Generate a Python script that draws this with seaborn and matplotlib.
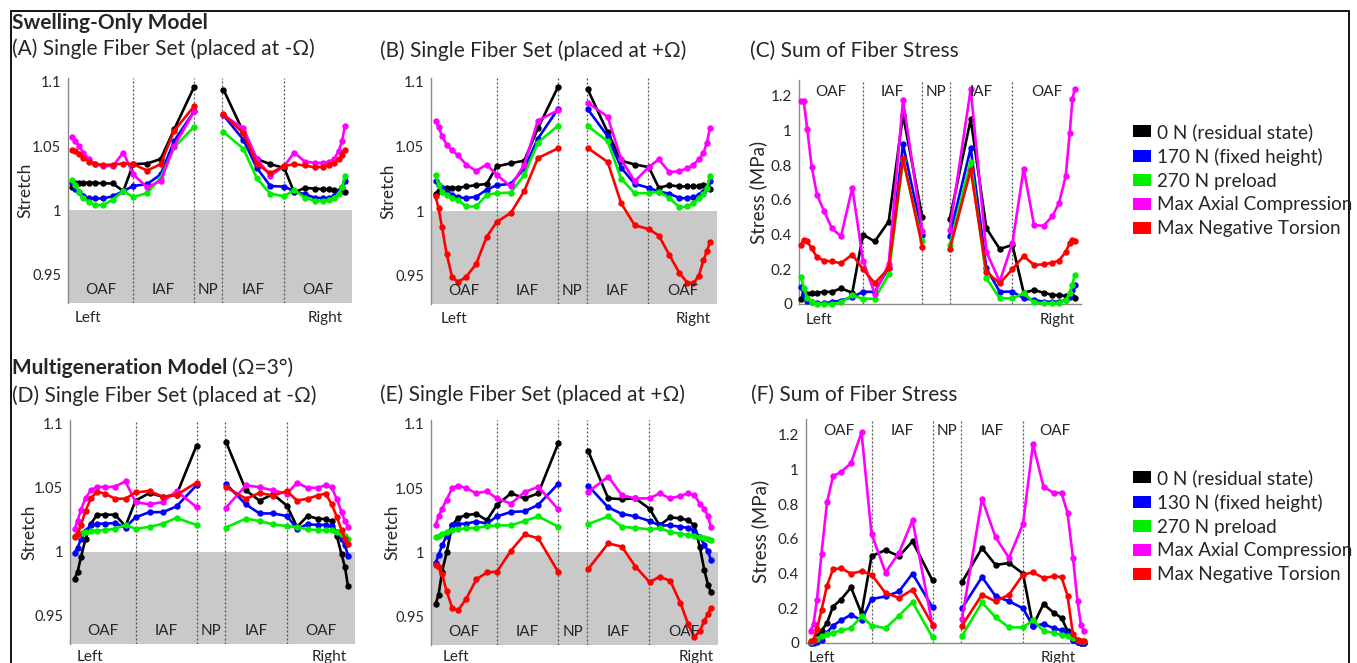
import numpy as np
import pandas as pd
import matplotlib
matplotlib.use("Agg")
import matplotlib.pyplot as plt
from matplotlib.patches import Patch, Rectangle
import seaborn as sns

# ---------------- data ----------------
# radial positions of the nodes (left half / right half)
pos_left = [4.5, 7.5, 11, 15.5, 21, 27, 35, 45, 55.5, 65.5, 79.5, 93, 106.5, 126.5]
pos_right = [156, 176, 189.5, 203, 217, 227, 237.5, 247.5, 255.5, 261.5, 267, 271.5, 275, 278]
posC_left = [2.3, 4.7, 8.3, 12.7, 18, 25, 33, 42, 53.3, 64, 75.7, 89.7, 104, 123.3]
posC_right = [150.7, 171.7, 187.4, 200.7, 213.4, 224.7, 235, 244.7, 253.4, 260, 266.7, 270.7, 273.4, 275.7]
region_bounds = [0, 65.5, 126.5, 155, 216.5, 285]
regionC_bounds = [0, 63.5, 123.3, 151, 213, 282]
regionF_bounds = [0, 65.5, 126.5, 155, 216.5, 281]
regions = ["OAF", "IAF", "NP", "IAF", "OAF"]

series_top = ["0 N (residual state)", "170 N (fixed height)", "270 N preload",
              "Max Axial Compression", "Max Negative Torsion"]
series_bot = ["0 N (residual state)", "130 N (fixed height)", "270 N preload",
              "Max Axial Compression", "Max Negative Torsion"]
colors = ["#000000", "#0000ff", "#00ee00", "#ff00ff", "#ff0000"]

# (A) swelling-only, fiber at -Omega : stretch (left 14 then right 14)
a_black = [1.018, 1.021, 1.0215, 1.0215, 1.0215, 1.0215, 1.021, 1.021, 1.015, 1.036, 1.0365, 1.040, 1.063, 1.096,
           1.094, 1.061, 1.040, 1.036, 1.033, 1.014, 1.0175, 1.017, 1.0165, 1.0165, 1.016, 1.0155, 1.015, 1.0143]
a_blue = [1.021, 1.017, 1.014, 1.011, 1.0095, 1.0093, 1.0093, 1.011, 1.015, 1.019, 1.0205, 1.028, 1.054, 1.077,
          1.074, 1.055, 1.033, 1.019, 1.0185, 1.015, 1.0125, 1.010, 1.0095, 1.0095, 1.011, 1.014, 1.018, 1.023]
a_green = [1.024, 1.0195, 1.014, 1.0095, 1.0065, 1.0045, 1.004, 1.0085, 1.015, 1.0105, 1.0135, 1.0255, 1.049, 1.065,
           1.061, 1.048, 1.025, 1.013, 1.011, 1.016, 1.010, 1.0075, 1.0072, 1.0078, 1.0095, 1.013, 1.018, 1.027]
a_magenta = [1.057, 1.054, 1.050, 1.045, 1.040, 1.036, 1.0347, 1.0345, 1.045, 1.028, 1.018, 1.023, 1.050, 1.077,
             1.074, 1.064, 1.040, 1.027, 1.0345, 1.045, 1.038, 1.037, 1.037, 1.0375, 1.040, 1.046, 1.054, 1.066]
a_red = [1.047, 1.0465, 1.044, 1.041, 1.038, 1.036, 1.0355, 1.0355, 1.0365, 1.036, 1.031, 1.036, 1.062, 1.081,
         1.075, 1.060, 1.036, 1.029, 1.0345, 1.036, 1.035, 1.0335, 1.034, 1.035, 1.037, 1.040, 1.0435, 1.047]

# (B) swelling-only, fiber at +Omega : stretch
b_black = [1.0135, 1.0155, 1.0175, 1.0177, 1.0177, 1.018, 1.019, 1.020, 1.021, 1.0345, 1.037, 1.039, 1.064, 1.096,
           1.0945, 1.061, 1.039, 1.036, 1.034, 1.018, 1.020, 1.019, 1.019, 1.019, 1.0195, 1.020, 1.019, 1.0172]
b_blue = [1.0234, 1.020, 1.018, 1.015, 1.0125, 1.0105, 1.010, 1.011, 1.0165, 1.020, 1.021, 1.033, 1.056, 1.079,
          1.079, 1.058, 1.0335, 1.021, 1.018, 1.015, 1.0135, 1.010, 1.0099, 1.0105, 1.0125, 1.015, 1.018, 1.023]
b_green = [1.028, 1.020, 1.015, 1.0125, 1.010, 1.0085, 1.0035, 1.0035, 1.0125, 1.0138, 1.0143, 1.028, 1.053, 1.066,
           1.066, 1.054, 1.025, 1.0138, 1.0138, 1.015, 1.010, 1.003, 1.0035, 1.006, 1.010, 1.013, 1.018, 1.027]
b_magenta = [1.0698, 1.065, 1.058, 1.0515, 1.047, 1.043, 1.036, 1.031, 1.036, 1.028, 1.019, 1.036, 1.070, 1.078,
             1.084, 1.073, 1.040, 1.023, 1.034, 1.040, 1.030, 1.031, 1.033, 1.036, 1.040, 1.045, 1.053, 1.0645]
b_red = [1.0113, 1.0023, 0.9874, 0.967, 0.949, 0.945, 0.949, 0.959, 0.980, 0.9915, 0.9985, 1.0156, 1.041, 1.0485,
         1.049, 1.038, 1.006, 0.989, 0.986, 0.981, 0.966, 0.952, 0.9445, 0.944, 0.950, 0.962, 0.969, 0.976]

# (C) swelling-only : sum of fiber stress (MPa)
c_black = [0.03, 0.06, 0.06, 0.065, 0.065, 0.07, 0.07, 0.09, 0.065, 0.40, 0.36, 0.475, 1.09, 0.50,
           0.488, 1.064, 0.436, 0.317, 0.34, 0.065, 0.08, 0.065, 0.052, 0.05, 0.048, 0.048, 0.048, 0.033]
c_blue = [0.10, 0.05, 0.02, 0.01, 0.005, 0.005, 0.01, 0.02, 0.04, 0.07, 0.07, 0.21, 0.92, 0.40,
          0.394, 0.897, 0.205, 0.071, 0.071, 0.033, 0.023, 0.013, 0.013, 0.013, 0.023, 0.042, 0.08, 0.11]
c_green = [0.155, 0.09, 0.035, 0.01, 0.0, 0.0, 0.0, 0.01, 0.05, 0.03, 0.03, 0.17, 0.83, 0.36,
           0.34, 0.82, 0.148, 0.033, 0.033, 0.061, 0.01, 0.004, 0.004, 0.008, 0.023, 0.061, 0.11, 0.167]
c_magenta = [1.17, 1.17, 1.005, 0.79, 0.63, 0.535, 0.435, 0.39, 0.67, 0.25, 0.06, 0.23, 1.175, 0.42,
             0.426, 1.237, 0.30, 0.129, 0.35, 0.78, 0.455, 0.45, 0.507, 0.58, 0.737, 0.983, 1.179, 1.237]
c_red = [0.34, 0.37, 0.36, 0.32, 0.27, 0.25, 0.245, 0.235, 0.285, 0.20, 0.12, 0.205, 0.84, 0.33,
         0.315, 0.772, 0.186, 0.119, 0.20, 0.276, 0.225, 0.228, 0.238, 0.25, 0.30, 0.35, 0.369, 0.365]

# (D) multigeneration, fiber at -Omega : stretch
d_black = [0.979, 0.984, 0.996, 1.010, 1.022, 1.029, 1.029, 1.029, 1.020, 1.040, 1.046, 1.043, 1.0445, 1.083,
           1.086, 1.048, 1.040, 1.045, 1.036, 1.0195, 1.028, 1.026, 1.0255, 1.024, 1.012, 0.998, 0.988, 0.973]
d_blue = [0.999, 1.003, 1.010, 1.0165, 1.021, 1.022, 1.022, 1.0225, 1.019, 1.027, 1.031, 1.031, 1.0355, 1.052,
          1.053, 1.037, 1.030, 1.030, 1.028, 1.018, 1.0215, 1.021, 1.021, 1.020, 1.0155, 1.010, 1.005, 0.997]
d_green = [1.012, 1.0135, 1.015, 1.0155, 1.016, 1.0165, 1.017, 1.018, 1.021, 1.018, 1.0195, 1.022, 1.0265, 1.021,
           1.019, 1.026, 1.024, 1.0215, 1.020, 1.0195, 1.0175, 1.017, 1.017, 1.0168, 1.0155, 1.014, 1.012, 1.010]
d_magenta = [1.0175, 1.024, 1.033, 1.042, 1.048, 1.051, 1.0505, 1.051, 1.055, 1.039, 1.037, 1.039, 1.0475, 1.035,
             1.0345, 1.052, 1.0505, 1.048, 1.0455, 1.054, 1.050, 1.050, 1.052, 1.0505, 1.041, 1.031, 1.024, 1.0195]
d_red = [1.0115, 1.014, 1.021, 1.032, 1.042, 1.047, 1.0455, 1.0415, 1.0415, 1.0465, 1.0475, 1.043, 1.0445, 1.054,
         1.0505, 1.0415, 1.046, 1.044, 1.0475, 1.040, 1.0415, 1.044, 1.0455, 1.0375, 1.027, 1.017, 1.010, 1.0065]

# (E) multigeneration, fiber at +Omega : stretch
e_black = [0.960, 0.967, 0.985, 1.000, 1.021, 1.027, 1.029, 1.030, 1.025, 1.037, 1.046, 1.042, 1.046, 1.085,
           1.079, 1.042, 1.0415, 1.042, 1.034, 1.021, 1.0273, 1.0265, 1.025, 1.021, 1.004, 0.986, 0.975, 0.969]
e_blue = [0.9915, 0.998, 1.0055, 1.013, 1.021, 1.022, 1.0225, 1.024, 1.0225, 1.028, 1.0315, 1.032, 1.037, 1.0535,
          1.052, 1.035, 1.030, 1.028, 1.0245, 1.021, 1.021, 1.020, 1.019, 1.017, 1.012, 1.006, 1.001, 0.994]
e_green = [1.012, 1.013, 1.014, 1.016, 1.0175, 1.018, 1.0188, 1.019, 1.0205, 1.021, 1.021, 1.0245, 1.028, 1.020,
           1.022, 1.028, 1.020, 1.019, 1.018, 1.0188, 1.016, 1.0145, 1.0137, 1.013, 1.012, 1.011, 1.0105, 1.010]
e_magenta = [1.021, 1.028, 1.034, 1.041, 1.050, 1.052, 1.050, 1.046, 1.0475, 1.042, 1.038, 1.047, 1.051, 1.0335,
             1.047, 1.059, 1.0445, 1.042, 1.042, 1.046, 1.042, 1.044, 1.046, 1.0445, 1.038, 1.034, 1.028, 1.020]
e_red = [0.990, 0.989, 0.983, 0.970, 0.957, 0.955, 0.964, 0.979, 0.9845, 0.985, 1.0015, 1.014, 1.011, 0.9845,
         0.987, 1.007, 1.0045, 0.989, 0.977, 0.981, 0.978, 0.961, 0.944, 0.934, 0.939, 0.947, 0.952, 0.957]

# (F) multigeneration : sum of fiber stress (MPa)
f_black = [0.002, 0.01, 0.04, 0.07, 0.115, 0.21, 0.25, 0.32, 0.17, 0.50, 0.535, 0.50, 0.585, 0.36,
           0.35, 0.547, 0.45, 0.46, 0.40, 0.10, 0.225, 0.175, 0.145, 0.07, 0.02, 0.006, 0.0, 0.0]
f_blue = [0.0, 0.0, 0.005, 0.02, 0.06, 0.10, 0.13, 0.163, 0.13, 0.253, 0.268, 0.297, 0.40, 0.205,
          0.20, 0.38, 0.27, 0.24, 0.20, 0.096, 0.11, 0.086, 0.073, 0.058, 0.02, 0.006, 0.0, 0.0]
f_green = [0.005, 0.015, 0.025, 0.04, 0.05, 0.06, 0.072, 0.086, 0.153, 0.10, 0.086, 0.157, 0.236, 0.032,
           0.04, 0.234, 0.148, 0.09, 0.09, 0.13, 0.07, 0.058, 0.048, 0.038, 0.029, 0.02, 0.013, 0.01]
f_magenta = [0.07, 0.11, 0.25, 0.515, 0.81, 0.96, 0.985, 1.035, 1.213, 0.63, 0.406, 0.52, 0.707, 0.10,
             0.14, 0.83, 0.61, 0.49, 0.685, 1.146, 0.90, 0.865, 0.865, 0.75, 0.49, 0.24, 0.105, 0.067]
f_red = [0.01, 0.02, 0.08, 0.19, 0.33, 0.425, 0.43, 0.40, 0.413, 0.394, 0.288, 0.26, 0.307, 0.106,
         0.10, 0.278, 0.24, 0.278, 0.394, 0.407, 0.374, 0.384, 0.38, 0.273, 0.05, 0.02, 0.013, 0.01]

stretch_ticks = [0.95, 1.0, 1.05, 1.1]
stretch_ticklabels = ["0.95", "1", "1.05", "1.1"]
stress_ticks = [0, 0.2, 0.4, 0.6, 0.8, 1.0, 1.2]
stress_ticklabels = ["0", "0.2", "0.4", "0.6", "0.8", "1", "1.2"]

# ---------------- style ----------------
sns.set_style("white")
plt.rcParams["font.family"] = ["Lato", "DejaVu Sans"]
plt.rcParams["axes.unicode_minus"] = False

W, H = 1357, 663
fig = plt.figure(figsize=(W / 100, H / 100), dpi=100)


def add_ax(x0, x1, ytop, ybot):
    return fig.add_axes([x0 / W, 1 - ybot / H, (x1 - x0) / W, (ybot - ytop) / H])


def make_df(vals, names, xl, xr):
    rows = []
    for name, v in zip(names, vals):
        for side, xs, vs in (("L", xl, v[:14]), ("R", xr, v[14:])):
            for x, y in zip(xs, vs):
                rows.append((name, side, x, y))
    return pd.DataFrame(rows, columns=["series", "side", "x", "value"])


def draw_lines(ax, df, names):
    sns.lineplot(data=df, x="x", y="value", hue="series", hue_order=names,
                 palette=dict(zip(names, colors)), units="side", estimator=None,
                 sort=False, marker="o", markersize=4.6, markeredgewidth=0,
                 linewidth=1.9, legend=False, ax=ax, clip_on=False, zorder=3)
    ax.set_xlabel("")


GRAY_LINE = "#8a8a8a"
LBL = 11


def stretch_panel(ax, vals, names, ylab_x, lr_offset, lr_x):
    ax.set_xlim(0, region_bounds[-1])
    ax.set_ylim(0.928, 1.103)
    ax.axhspan(0.928, 1.0, color="#c9c9c9", lw=0, zorder=0)
    for b in region_bounds[1:-1]:
        ax.axvline(b, color="#555555", lw=0.9, ls=(0, (1.6, 1.6)), zorder=1)
    draw_lines(ax, make_df(vals, names, pos_left, pos_right), names)
    for s in ["top", "right", "bottom"]:
        ax.spines[s].set_visible(False)
    ax.spines["left"].set_color(GRAY_LINE)
    ax.spines["left"].set_linewidth(1.0)
    ax.set_xticks([])
    ax.set_yticks(stretch_ticks)
    ax.set_yticklabels(stretch_ticklabels)
    ax.tick_params(axis="y", direction="in", length=3, color=GRAY_LINE, labelsize=10.5, pad=5)
    ax.set_ylabel("Stretch", fontsize=12.5)
    ax.yaxis.set_label_coords(ylab_x, 0.5)
    for i, r in enumerate(regions):
        cx = (region_bounds[i] + region_bounds[i + 1]) / 2
        ax.text(cx, 0.938, r, ha="center", va="center", fontsize=LBL)
    for t, x in zip(["Left", "Right"], lr_x):
        ax.annotate(t, xy=(x, 0), xycoords=("data", "axes fraction"),
                    xytext=(0, -lr_offset), textcoords="offset pixels",
                    ha="center", va="center", fontsize=LBL)


def stress_panel(ax, vals, names, xl, xr, bounds, ylab_x, lr_offset, lr_x):
    ax.set_xlim(0, bounds[-1])
    ax.set_ylim(0, 1.29)
    for b in bounds[1:-1]:
        ax.axvline(b, color="#555555", lw=0.9, ls=(0, (1.6, 1.6)), zorder=1)
    draw_lines(ax, make_df(vals, names, xl, xr), names)
    for s in ["top", "right"]:
        ax.spines[s].set_visible(False)
    for s in ["left", "bottom"]:
        ax.spines[s].set_color(GRAY_LINE)
        ax.spines[s].set_linewidth(1.0)
    centers = [(bounds[i] + bounds[i + 1]) / 2 for i in range(5)]
    ax.set_xticks(centers)
    ax.set_xticklabels([])
    ax.set_yticks(stress_ticks)
    ax.set_yticklabels(stress_ticklabels)
    ax.tick_params(axis="both", direction="in", length=3, color=GRAY_LINE, labelsize=11, pad=5)
    ax.set_ylabel("Stress (MPa)", fontsize=13.5)
    ax.yaxis.set_label_coords(ylab_x, 0.5)
    for c, r in zip(centers, regions):
        ax.text(c, 1.22, r, ha="center", va="center", fontsize=LBL)
    for t, x in zip(["Left", "Right"], lr_x):
        ax.annotate(t, xy=(x, 0), xycoords=("data", "axes fraction"),
                    xytext=(0, -lr_offset), textcoords="offset pixels",
                    ha="center", va="center", fontsize=LBL)


axA = add_ax(68, 352, 78, 303)
stretch_panel(axA, [a_black, a_blue, a_green, a_magenta, a_red], series_top, -0.123, 15, [20, 258])
axB = add_ax(431, 717, 78, 304)
stretch_panel(axB, [b_black, b_blue, b_green, b_magenta, b_red], series_top, -0.122, 15, [23, 261])
axC = add_ax(799, 1081, 80, 304)
stress_panel(axC, [c_black, c_blue, c_green, c_magenta, c_red], series_top,
             posC_left, posC_right, regionC_bounds, -0.113, 16, [20, 258])
axD = add_ax(70, 355, 420, 644)
stretch_panel(axD, [d_black, d_blue, d_green, d_magenta, d_red], series_bot, -0.116, 13, [20, 259])
axE = add_ax(431, 718, 420, 645)
stretch_panel(axE, [e_black, e_blue, e_green, e_magenta, e_red], series_bot, -0.105, 12, [25, 263])
axF = add_ax(806, 1087, 419, 643)
stress_panel(axF, [f_black, f_blue, f_green, f_magenta, f_red], series_bot,
             pos_left, pos_right, regionF_bounds, -0.132, 15, [16, 252])

# ---------------- titles ----------------
TS = 15
fig.text(12 / W, 1 - 29 / H, "Swelling-Only Model", fontsize=15, fontweight="bold", va="baseline")
fig.text(12 / W, 1 - 55 / H, "(A) Single Fiber Set (placed at -Ω)", fontsize=TS, va="baseline")
fig.text(380 / W, 1 - 57 / H, "(B) Single Fiber Set (placed at +Ω)", fontsize=TS, va="baseline")
fig.text(750 / W, 1 - 57 / H, "(C) Sum of Fiber Stress", fontsize=TS, va="baseline")
mg = fig.text(12 / W, 1 - 374 / H, "Multigeneration Model", fontsize=15, fontweight="bold", va="baseline")
renderer = fig.canvas.get_renderer()
bb = mg.get_window_extent(renderer)
fig.text(bb.x1 / W + 5 / W, 1 - 374 / H, "(Ω=3°)", fontsize=TS, va="baseline")
fig.text(12 / W, 1 - 402 / H, "(D) Single Fiber Set (placed at -Ω)", fontsize=TS, va="baseline")
fig.text(380 / W, 1 - 401 / H, "(E) Single Fiber Set (placed at +Ω)", fontsize=TS, va="baseline")
fig.text(751 / W, 1 - 401 / H, "(F) Sum of Fiber Stress", fontsize=TS, va="baseline")

# ---------------- legends ----------------
for names, ytop in ((series_top, 123), (series_bot, 469)):
    handles = [Patch(facecolor=c, edgecolor="none") for c in colors]
    fig.legend(handles, names, loc="upper left", bbox_to_anchor=(1133 / W, 1 - ytop / H),
               frameon=False, fontsize=13.6, handlelength=0.95, handleheight=0.6,
               handletextpad=0.3, labelspacing=0.36, borderpad=0, borderaxespad=0)

# ---------------- frame ----------------
fig.add_artist(Rectangle((11 / W, -0.01), (1349 - 11) / W, 1.01 - 11 / H,
                         transform=fig.transFigure, fill=False, lw=1.3, ec="black"))

fig.savefig("out.png", dpi=100)
